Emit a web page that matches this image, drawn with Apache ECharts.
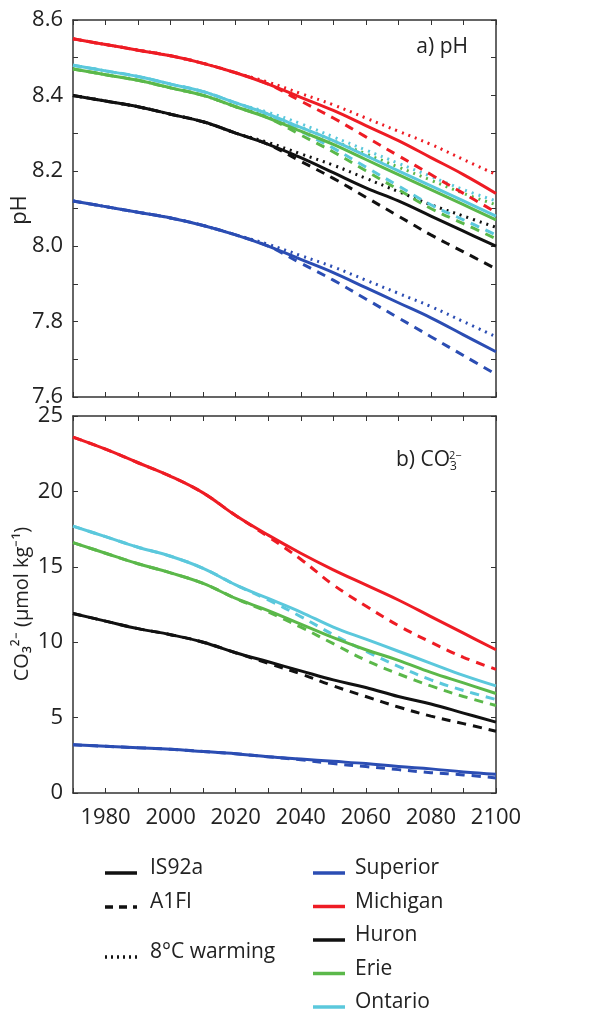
<!DOCTYPE html>
<html>
<head>
<meta charset="utf-8">
<script src="https://cdn.jsdelivr.net/npm/echarts@6/dist/echarts.min.js"></script>
<style>html,body{margin:0;padding:0;background:#fff}#chart{width:592px;height:1017px}</style>
</head>
<body>
<div id="chart"></div>
<script>
const years = [1970,1980,1990,2000,2010,2020,2030,2040,2050,2060,2070,2080,2090,2100]
const lakes = ['Superior','Michigan','Huron','Erie','Ontario']
const colors = ['#2b4db3','#ee1c24','#111111','#5bb84a','#5bc8dc']

// pH, IS92a (solid)
const phSolid = [
    [8.12,8.105,8.09,8.075,8.055,8.03,8.00,7.965,7.93,7.89,7.85,7.81,7.765,7.72],
    [8.55,8.535,8.52,8.505,8.485,8.46,8.43,8.395,8.36,8.32,8.28,8.235,8.19,8.14],
    [8.40,8.385,8.37,8.35,8.33,8.30,8.27,8.235,8.195,8.155,8.12,8.08,8.04,8.00],
    [8.47,8.455,8.44,8.42,8.40,8.37,8.34,8.305,8.27,8.23,8.19,8.15,8.11,8.07],
    [8.48,8.465,8.45,8.43,8.41,8.38,8.35,8.315,8.28,8.24,8.20,8.16,8.12,8.08],
]
// pH, A1FI (dashed)
const phDashed = [
    [8.12,8.105,8.09,8.075,8.055,8.03,8.00,7.955,7.91,7.86,7.81,7.76,7.71,7.66],
    [8.55,8.535,8.52,8.505,8.485,8.46,8.43,8.385,8.34,8.29,8.24,8.19,8.14,8.09],
    [8.40,8.385,8.37,8.35,8.33,8.30,8.27,8.225,8.18,8.13,8.08,8.03,7.985,7.94],
    [8.47,8.455,8.44,8.42,8.40,8.37,8.34,8.295,8.25,8.20,8.15,8.10,8.06,8.02],
    [8.48,8.465,8.45,8.43,8.41,8.38,8.35,8.305,8.26,8.21,8.16,8.11,8.07,8.03],
]
// pH, 8°C warming (dotted)
const phDotted = [
    [8.12,8.105,8.09,8.075,8.055,8.03,8.005,7.975,7.945,7.91,7.875,7.84,7.80,7.76],
    [8.55,8.535,8.52,8.505,8.485,8.46,8.435,8.405,8.375,8.34,8.305,8.27,8.23,8.19],
    [8.40,8.385,8.37,8.35,8.33,8.30,8.275,8.245,8.215,8.18,8.145,8.11,8.08,8.05],
    [8.47,8.455,8.44,8.42,8.40,8.37,8.345,8.315,8.28,8.245,8.21,8.175,8.14,8.11],
    [8.48,8.465,8.45,8.43,8.41,8.38,8.355,8.325,8.29,8.255,8.22,8.185,8.15,8.12],
]
// CO3 2-, IS92a (solid)
const co3Solid = [
    [3.2,3.1,3.0,2.9,2.75,2.6,2.4,2.25,2.1,1.95,1.75,1.6,1.4,1.25],
    [23.6,22.8,21.9,21.0,19.9,18.4,17.1,15.9,14.8,13.8,12.8,11.7,10.6,9.5],
    [11.9,11.4,10.9,10.5,10.0,9.3,8.7,8.1,7.5,7.0,6.4,5.9,5.3,4.7],
    [16.6,15.9,15.2,14.6,13.9,12.9,12.1,11.2,10.3,9.5,8.8,8.0,7.3,6.6],
    [17.7,17.0,16.3,15.7,14.9,13.8,12.9,12.0,11.0,10.2,9.4,8.6,7.8,7.1],
]
// CO3 2-, A1FI (dashed)
const co3Dashed = [
    [3.2,3.1,3.0,2.9,2.75,2.6,2.4,2.2,1.95,1.75,1.55,1.35,1.2,1.0],
    [23.6,22.8,21.9,21.0,19.9,18.4,17.0,15.5,13.8,12.4,11.1,10.0,9.0,8.2],
    [11.9,11.4,10.9,10.5,10.0,9.3,8.6,7.9,7.1,6.4,5.7,5.1,4.6,4.1],
    [16.6,15.9,15.2,14.6,13.9,12.9,12.0,11.0,9.9,8.8,7.9,7.1,6.4,5.8],
    [17.7,17.0,16.3,15.7,14.9,13.8,12.8,11.7,10.5,9.4,8.4,7.5,6.8,6.2],
]

const font = 'Open Sans'
const grids = [
    { left: 73, right: 96, top: 20, height: 377 },
    { left: 73, right: 96, top: 416, height: 377 },
]

const mkX = (gi, pos, labels) => ({
    type: 'value', gridIndex: gi, position: pos, min: 1970, max: 2100, interval: 10,
    axisLine: { onZero: false, lineStyle: { color: '#333', width: 1.5 } },
    axisTick: { inside: true, length: 5, lineStyle: { color: '#333' } },
    axisLabel: labels ? {
        fontFamily: font, fontSize: 22, color: '#222', margin: 14,
        formatter: v => (v % 20 === 0 ? v : ''),
    } : { show: false },
    splitLine: { show: false },
})
const mkY = (gi, pos, min, max, interval, labels, fmt) => ({
    type: 'value', gridIndex: gi, position: pos, min, max, interval,
    axisLine: { show: true, onZero: false, lineStyle: { color: '#333', width: 1.5 } },
    axisTick: { show: true, inside: true, length: 5, lineStyle: { color: '#333' } },
    axisLabel: labels ? { fontFamily: font, fontSize: 22, color: '#222', margin: 10, formatter: fmt } : { show: false },
    splitLine: { show: false },
})

const series = []
const pair = (arr) => years.map((y, i) => [y, arr[i]])
const line = (xi, arr, color, dash, z) => ({
    type: 'line', xAxisIndex: xi, yAxisIndex: xi, data: pair(arr), symbol: 'none', smooth: 0.4,
    lineStyle: { color, width: 3, type: dash || 'solid' }, z,
})
lakes.forEach((lake, k) => {
    series.push(line(0, phDotted[k], colors[k], [2, 5], 1))
    series.push(line(0, phDashed[k], colors[k], [9, 7], 2))
    series.push(line(0, phSolid[k], colors[k], null, 3))
    series.push(line(2, co3Dashed[k], colors[k], [9, 7], 2))
    series.push(line(2, co3Solid[k], colors[k], null, 3))
})

const legendGraphics = []
const styleNames = [['IS92a', 873, null], ['A1FI', 907, [8, 6]], ['8°C warming', 957, [2, 4]]]
styleNames.forEach(([name, y, dash]) => {
    legendGraphics.push({ type: 'line', shape: { x1: 105, y1: y, x2: 137, y2: y }, style: { stroke: '#111', lineWidth: 3.5, lineDash: dash } })
    legendGraphics.push({ type: 'text', left: 150, top: y - 15, style: { text: name, font: '21px "Open Sans"', fill: '#222' } })
})
lakes.forEach((lake, k) => {
    const y = 873 + k * 33.5
    legendGraphics.push({ type: 'line', shape: { x1: 313, y1: y, x2: 345, y2: y }, style: { stroke: colors[k], lineWidth: 3.5 } })
    legendGraphics.push({ type: 'text', left: 355, top: y - 15, style: { text: lake, font: '21px "Open Sans"', fill: '#222' } })
})

const chart = echarts.init(document.getElementById('chart'))
chart.setOption({
    animation: false,
    grid: grids,
    xAxis: [mkX(0, 'bottom', false), mkX(0, 'top', false), mkX(1, 'bottom', true), mkX(1, 'top', false)],
    yAxis: [
        mkY(0, 'left', 7.6, 8.6, 0.1, true, v => (Math.round(v * 10) % 2 === 0 ? v.toFixed(1) : '')),
        mkY(0, 'right', 7.6, 8.6, 0.1, false),
        mkY(1, 'left', 0, 25, 5, true, v => v),
        mkY(1, 'right', 0, 25, 5, false),
    ],
    series,
    graphic: [
        { type: 'text', right: 124, top: 37, style: { text: 'a) pH', font: '21px "Open Sans"', fill: '#222' } },
        { type: 'text', left: 396, top: 450, style: {
            text: 'b) CO{s|3}{p|2−}', font: '21px "Open Sans"', fill: '#222',
            rich: { s: { fontSize: 12, fontFamily: font, padding: [12, 0, 0, 0] }, p: { fontSize: 11, fontFamily: font, padding: [0, 0, 10, -8] } },
        } },
        { type: 'text', x: 20, y: 210, rotation: Math.PI / 2, style: { text: 'pH', font: '22px "Open Sans"', fill: '#222', align: 'center', verticalAlign: 'middle' } },
        { type: 'text', x: 22, y: 604, rotation: Math.PI / 2, style: { text: 'CO₃²⁻ (μmol kg⁻¹)', font: '20px "Open Sans"', fill: '#222', align: 'center', verticalAlign: 'middle' } },
        ...legendGraphics,
    ],
})
</script>
</body>
</html>
